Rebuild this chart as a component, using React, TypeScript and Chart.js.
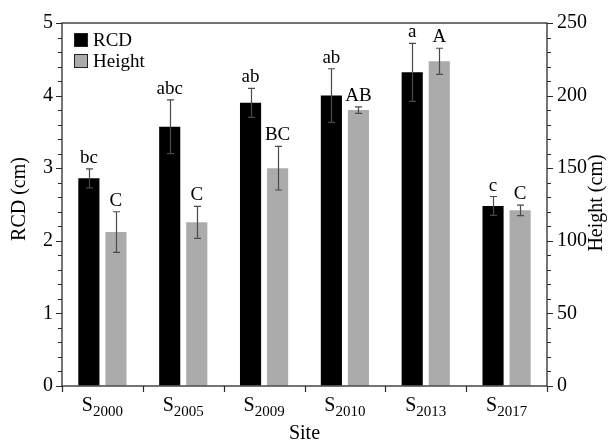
import React, { useEffect, useRef } from 'react';
import { Chart, registerables } from 'chart.js';

Chart.register(...registerables);

const categories = ['S2000', 'S2005', 'S2009', 'S2010', 'S2013', 'S2017'];
const rcdValues = [2.86, 3.57, 3.9, 4.0, 4.32, 2.48];
const rcdErrors = [0.13, 0.37, 0.2, 0.37, 0.4, 0.13];
const heightValues = [106, 112.7, 150, 190, 223.6, 121];
const heightErrors = [14, 11, 15, 2.3, 9, 3.6];
const rcdLetters = ['bc', 'abc', 'ab', 'ab', 'a', 'c'];
const heightLetters = ['C', 'C', 'BC', 'AB', 'A', 'C'];
const seriesNames = ['RCD', 'Height'];
const leftTicks = [0, 1, 2, 3, 4, 5];
const rightTicks = [0, 50, 100, 150, 200, 250];

const FONT = "'Liberation Serif', 'Times New Roman', serif";
const AXIS = '#2a2a2a';

const customPlugin = {
  id: 'custom',
  afterDatasetsDraw(chart: any) {
    const ctx = chart.ctx as CanvasRenderingContext2D;
    const area = chart.chartArea;
    const yS = chart.scales.y;
    const y2S = chart.scales.y2;
    ctx.save();

    // error bars and letters
    const errs = [rcdErrors, heightErrors];
    const vals = [rcdValues, heightValues];
    const letters = [rcdLetters, heightLetters];
    const scales = [yS, y2S];
    for (let d = 0; d < 2; d++) {
      const meta = chart.getDatasetMeta(d);
      meta.data.forEach((el: any, i: number) => {
        const v = vals[d][i];
        const e = errs[d][i];
        const yt = scales[d].getPixelForValue(v + e);
        const yb = scales[d].getPixelForValue(v - e);
        const x = Math.round(el.x) + 0.5;
        ctx.strokeStyle = '#4a4a4a';
        ctx.lineWidth = 1.2;
        ctx.beginPath();
        ctx.moveTo(x, yt);
        ctx.lineTo(x, yb);
        ctx.moveTo(x - 3.5, yt);
        ctx.lineTo(x + 3.5, yt);
        ctx.moveTo(x - 3.5, yb);
        ctx.lineTo(x + 3.5, yb);
        ctx.stroke();
        ctx.fillStyle = '#000';
        ctx.font = `19px ${FONT}`;
        ctx.textAlign = 'center';
        ctx.textBaseline = 'alphabetic';
        ctx.fillText(letters[d][i], el.x, yt - 6);
      });
    }

    // frame
    ctx.strokeStyle = AXIS;
    ctx.lineWidth = 1.3;
    ctx.strokeRect(area.left, area.top, area.right - area.left, area.bottom - area.top);

    // ticks
    ctx.lineWidth = 1.2;
    ctx.beginPath();
    for (let k = 0; k <= 25; k++) {
      const v = k * 0.2;
      const py = Math.round(yS.getPixelForValue(v)) + 0.5;
      const len = k % 5 === 0 ? 6 : 4;
      ctx.moveTo(area.left, py);
      ctx.lineTo(area.left - len, py);
    }
    for (let k = 0; k <= 25; k++) {
      const v = k * 10;
      const py = Math.round(y2S.getPixelForValue(v)) + 0.5;
      const len = k % 5 === 0 ? 6 : 4;
      ctx.moveTo(area.right, py);
      ctx.lineTo(area.right + len, py);
    }
    const n = categories.length;
    const w = (area.right - area.left) / n;
    for (let k = 0; k <= n; k++) {
      const px = Math.round(area.left + k * w) + 0.5;
      ctx.moveTo(px, area.bottom);
      ctx.lineTo(px, area.bottom + 6);
    }
    ctx.stroke();

    // x labels with subscript
    ctx.fillStyle = '#000';
    ctx.textBaseline = 'alphabetic';
    categories.forEach((c, i) => {
      const cx = chart.scales.x.getPixelForValue(i);
      const main = c.slice(0, 1);
      const sub = c.slice(1);
      ctx.font = `20px ${FONT}`;
      const wm = ctx.measureText(main).width;
      ctx.font = `15px ${FONT}`;
      const ws = ctx.measureText(sub).width;
      const start = cx - (wm + ws) / 2;
      ctx.textAlign = 'left';
      ctx.font = `20px ${FONT}`;
      ctx.fillText(main, start, 411);
      ctx.font = `15px ${FONT}`;
      ctx.fillText(sub, start + wm, 416);
    });

    // axis titles
    ctx.font = `20px ${FONT}`;
    ctx.textAlign = 'center';
    ctx.fillText('Site', (area.left + area.right) / 2, 439);
    ctx.save();
    ctx.translate(20, 199);
    ctx.rotate(-Math.PI / 2);
    ctx.textBaseline = 'middle';
    ctx.fillText('RCD (cm)', 0, 0);
    ctx.restore();
    ctx.save();
    ctx.translate(597, 203);
    ctx.rotate(-Math.PI / 2);
    ctx.textBaseline = 'middle';
    ctx.fillText('Height (cm)', 0, 0);
    ctx.restore();

    // legend
    const colors = ['#000000', '#ababab'];
    seriesNames.forEach((name, i) => {
      const top = 33 + i * 21;
      ctx.fillStyle = colors[i];
      ctx.fillRect(74, top, 14, 14);
      ctx.strokeStyle = '#222';
      ctx.lineWidth = 1;
      ctx.strokeRect(74.5, top + 0.5, 13, 13);
      ctx.fillStyle = '#000';
      ctx.font = `19px ${FONT}`;
      ctx.textAlign = 'left';
      ctx.textBaseline = 'middle';
      ctx.fillText(name, 93, top + 8);
    });

    ctx.restore();
  },
};

export default function App() {
  const ref = useRef<HTMLCanvasElement>(null);
  useEffect(() => {
    if (!ref.current) return;
    const chart = new Chart(ref.current, {
      type: 'bar',
      data: {
        labels: categories,
        datasets: [
          {
            label: seriesNames[0],
            data: rcdValues,
            backgroundColor: '#000000',
            yAxisID: 'y',
            categoryPercentage: 0.67,
            barPercentage: 0.78,
          },
          {
            label: seriesNames[1],
            data: heightValues,
            backgroundColor: '#ababab',
            yAxisID: 'y2',
            categoryPercentage: 0.67,
            barPercentage: 0.78,
          },
        ],
      },
      options: {
        responsive: false,
        animation: false,
        layout: { padding: { top: 23, left: 0, right: 0, bottom: 0 } },
        plugins: { legend: { display: false }, tooltip: { enabled: false } },
        scales: {
          x: {
            ticks: { display: false },
            grid: { display: false },
            border: { display: false },
            afterFit: (s: any) => { s.height = 57; },
          },
          y: {
            position: 'left',
            min: 0,
            max: 5,
            afterBuildTicks: (s: any) => { s.ticks = leftTicks.map((v) => ({ value: v })); },
            ticks: { color: '#000', font: { family: FONT, size: 20 }, padding: 9 },
            grid: { drawOnChartArea: false, drawTicks: false },
            border: { display: false },
            afterFit: (s: any) => { s.width = 62; },
          },
          y2: {
            position: 'right',
            min: 0,
            max: 250,
            afterBuildTicks: (s: any) => { s.ticks = rightTicks.map((v) => ({ value: v })); },
            ticks: { color: '#000', font: { family: FONT, size: 20 }, padding: 10 },
            grid: { drawOnChartArea: false, drawTicks: false },
            border: { display: false },
            afterFit: (s: any) => { s.width = 67; },
          },
        },
      },
      plugins: [customPlugin],
    } as any);
    return () => chart.destroy();
  }, []);
  return (
    <div style={{ position: 'fixed', left: 0, top: 0, width: 614, height: 443, background: '#fff' }}>
      <canvas ref={ref} width={614} height={443} />
    </div>
  );
}
